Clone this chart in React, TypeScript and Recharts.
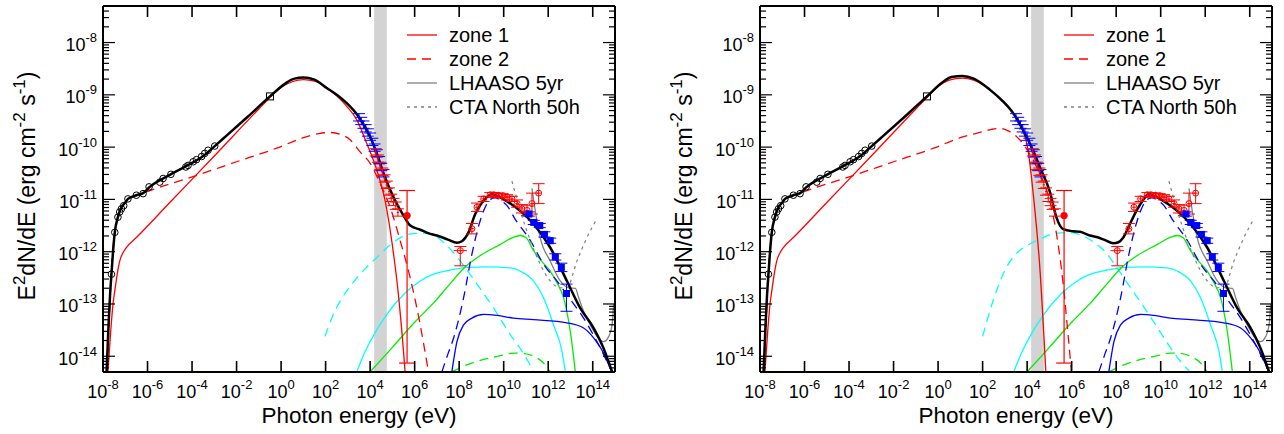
import React from "react";
import { ComposedChart, Line, Scatter, XAxis, YAxis, ReferenceArea, ErrorBar } from "recharts";

// all values are log10(E / eV) and log10(E^2 dN/dE / erg cm^-2 s^-1)
type P = [number, number];

const X_DOMAIN: [number, number] = [-8, 15];
const Y_DOMAIN: [number, number] = [Math.log10(5e-15), Math.log10(5e-8)];
const X_TICKS = [-8, -6, -4, -2, 0, 2, 4, 6, 8, 10, 12, 14];
const Y_DECADES = [-15, -14, -13, -12, -11, -10, -9, -8];
const BAND: [number, number] = [4.18, 4.75];

// ---- model curves, left panel ----
const totalL: P[] = [
  [-7.84, -14.3], [-7.75, -13.4], [-7.68, -12.8], [-7.62, -12.43], [-7.55, -12.0], [-7.47, -11.63],
  [-7.33, -11.34], [-7.17, -11.15], [-7.0, -11.06], [-6.88, -10.99], [-6.5, -10.92], [-6.2, -10.88],
  [-5.9, -10.76], [-5.0, -10.53], [-4.25, -10.36], [-3.5, -10.17], [-2.98, -9.98], [-2.5, -9.8],
  [-1.5, -9.42], [-0.5, -9.03], [0.2, -8.78], [0.6, -8.69], [1.0, -8.67], [1.5, -8.71], [2.05, -8.87],
  [2.5, -9.0], [2.95, -9.16], [3.47, -9.41], [4.0, -9.8], [4.3, -10.12], [4.6, -10.5], [5.05, -10.96],
  [5.5, -11.31], [5.8, -11.5], [6.25, -11.58], [6.7, -11.66], [7.0, -11.69], [7.5, -11.77], [7.9, -11.83],
  [8.12, -11.8], [8.42, -11.63], [8.72, -11.28], [9.1, -11.02], [9.47, -10.9], [9.85, -10.96],
  [10.3, -11.08], [10.74, -11.22], [11.34, -11.47], [12.09, -11.92], [12.84, -12.56], [13.44, -13.08],
  [14.04, -13.46], [14.49, -13.85], [14.87, -14.3],
];
const zone1L: P[] = [
  [-7.78, -14.3], [-7.65, -13.5], [-7.55, -13.0], [-7.47, -12.75], [-7.35, -12.4], [-7.25, -12.18],
  [-7.1, -12.02], [-6.95, -11.92], [-6.5, -11.73], [-5, -11.06], [-3, -10.17], [-1, -9.27], [-0.5, -9.05],
  [0, -8.86], [0.5, -8.75], [1.0, -8.71], [1.5, -8.74], [2.0, -8.85], [2.5, -9.02], [2.95, -9.22],
  [3.4, -9.48], [3.85, -9.93], [4.3, -10.44], [4.67, -11.02], [4.97, -11.79], [5.27, -12.82], [5.5, -13.91],
  [5.57, -14.3],
];
const zone2L: P[] = [
  [-7.82, -14.3], [-7.72, -13.3], [-7.63, -12.45], [-7.48, -11.66], [-7.33, -11.36], [-7.17, -11.17],
  [-6.88, -11.01], [-6.5, -10.93], [-6.2, -10.88], [-4, -10.57], [-2, -10.28], [-0.2, -10.02], [1.0, -9.82],
  [1.7, -9.74], [2.2, -9.72], [2.7, -9.76], [3.1, -9.86], [3.55, -10.09], [4.0, -10.31], [4.45, -10.7],
  [4.9, -11.15], [5.35, -11.79], [5.8, -12.5], [6.25, -13.4], [6.62, -14.3],
];
const cyanDashL: P[] = [
  [1.97, -13.62], [2.4, -13.15], [2.95, -12.75], [3.55, -12.43], [4.3, -12.11], [5.05, -11.82], [5.5, -11.7],
  [5.8, -11.66], [6.2, -11.65], [6.7, -11.66], [7.3, -11.82], [8.05, -12.18], [8.8, -12.62], [9.55, -13.08],
  [10.3, -13.59], [10.74, -13.85], [11.1, -14.1], [11.34, -14.3],
];

// ---- model curves, right panel ----
const totalR: P[] = [
  [-7.84, -14.3], [-7.75, -13.4], [-7.68, -12.8], [-7.62, -12.43], [-7.55, -12.0], [-7.47, -11.63],
  [-7.33, -11.34], [-7.17, -11.15], [-7.0, -11.06], [-6.88, -10.99], [-6.5, -10.92], [-6.2, -10.88],
  [-5.9, -10.76], [-5.0, -10.53], [-4.25, -10.36], [-3.5, -10.17], [-2.98, -9.98], [-2.5, -9.8],
  [-1.5, -9.42], [-0.5, -9.03], [0.2, -8.76], [0.6, -8.66], [1.1, -8.64], [1.6, -8.69], [2.32, -8.9],
  [2.9, -9.12], [3.37, -9.35], [3.97, -9.8], [4.3, -10.1], [4.57, -10.38], [5.02, -10.85], [5.32, -11.35],
  [5.62, -11.57], [6.07, -11.61], [6.37, -11.62], [6.82, -11.69], [7.12, -11.72], [7.5, -11.78],
  [7.87, -11.84], [8.1, -11.82], [8.32, -11.73], [8.62, -11.47], [8.92, -11.21], [9.2, -11.02],
  [9.47, -10.9], [9.85, -10.96], [10.3, -11.08], [10.74, -11.22], [11.34, -11.47], [12.09, -11.92],
  [12.84, -12.56], [13.44, -13.08], [14.04, -13.46], [14.49, -13.85], [14.87, -14.3],
];
const zone1R: P[] = [
  [-7.78, -14.3], [-7.65, -13.5], [-7.55, -13.0], [-7.47, -12.75], [-7.35, -12.4], [-7.25, -12.18],
  [-7.1, -12.02], [-6.95, -11.92], [-6.5, -11.73], [-5, -11.06], [-3, -10.17], [-1, -9.27], [-0.5, -9.05],
  [0, -8.84], [0.5, -8.72], [1.1, -8.68], [1.6, -8.72], [2.2, -8.86], [2.8, -9.07], [3.3, -9.3],
  [3.67, -9.55], [4.04, -10.06], [4.3, -11.0], [4.57, -12.3], [4.84, -14.3],
];
const zone2R: P[] = [
  [-7.82, -14.3], [-7.72, -13.3], [-7.63, -12.45], [-7.48, -11.66], [-7.33, -11.36], [-7.17, -11.17],
  [-6.88, -11.01], [-6.5, -10.93], [-6.2, -10.88], [-4, -10.57], [-2, -10.28], [-0.2, -10.02], [1.0, -9.82],
  [1.87, -9.72], [2.4, -9.66], [2.77, -9.64], [3.2, -9.7], [3.67, -9.86], [4.0, -10.05], [4.5, -10.45],
  [5.0, -11.0], [5.32, -11.66], [5.62, -12.62], [5.84, -13.59], [5.99, -14.3],
];
const cyanDashR: P[] = [
  [2.0, -13.62], [2.5, -12.9], [3.07, -12.3], [3.6, -12.0], [4.0, -11.88], [4.57, -11.76], [5.0, -11.68],
  [5.5, -11.64], [6.07, -11.64], [6.5, -11.7], [7.0, -11.82], [7.5, -12.0], [8.02, -12.3], [8.5, -12.6],
  [9.07, -12.95], [9.7, -13.35], [10.3, -13.75], [10.8, -14.05], [11.32, -14.3],
];

// ---- model curves shared by both panels ----
const cyanSolid: P[] = [
  [3.4, -14.3], [3.7, -13.98], [4.0, -13.72], [4.75, -13.2], [5.5, -12.82], [6.25, -12.56], [6.85, -12.43],
  [7.6, -12.35], [8.35, -12.3], [9.25, -12.29], [10.3, -12.31], [10.74, -12.37], [11.34, -12.56],
  [11.79, -12.88], [12.24, -13.4], [12.62, -13.91], [12.77, -14.3],
];
const greenSolid: P[] = [
  [4.0, -14.3], [5.0, -13.83], [6.0, -13.35], [6.85, -12.98], [7.5, -12.66], [8.2, -12.32], [9.0, -12.06],
  [9.85, -11.86], [10.4, -11.73], [10.74, -11.69], [11.0, -11.73], [11.34, -11.98], [11.7, -12.18],
  [12.09, -12.37], [12.4, -12.6], [12.69, -12.88], [12.99, -13.52], [13.22, -14.3],
];
const greenDash: P[] = [
  [7.67, -14.3], [8.3, -14.17], [9.1, -14.06], [9.85, -13.99], [10.44, -13.94], [10.74, -13.94],
  [11.34, -14.0], [11.79, -14.13], [12.09, -14.3],
];
const blueSolid: P[] = [
  [7.67, -14.3], [7.9, -13.72], [8.2, -13.4], [8.57, -13.27], [9.1, -13.2], [9.7, -13.22], [10.44, -13.27],
  [11.34, -13.3], [12.84, -13.36], [13.59, -13.46], [14.04, -13.65], [14.49, -13.94], [14.79, -14.23],
  [14.88, -14.3],
];
const blueDash: P[] = [
  [7.22, -14.3], [7.5, -13.95], [7.75, -13.65], [8.2, -12.88], [8.57, -12.05], [8.95, -11.4], [9.2, -11.12],
  [9.4, -11.0], [9.62, -10.97], [9.85, -11.02], [10.15, -11.12], [10.52, -11.38], [10.67, -11.47],
  [11.2, -11.79], [11.79, -12.24], [12.39, -12.56], [12.99, -12.91], [13.59, -13.27], [14.19, -13.72],
  [14.64, -14.1], [14.87, -14.3],
];
const lhaaso: P[] = [
  [11.27, -10.79], [11.45, -11.3], [11.64, -11.73], [12.09, -12.18], [12.54, -12.56], [12.92, -12.69],
  [13.22, -12.7], [13.37, -12.88], [13.59, -13.14], [13.89, -13.4], [14.19, -13.62], [14.49, -13.72],
  [14.72, -13.62], [14.87, -13.4], [14.94, -13.0],
];
const cta: P[] = [
  [10.37, -10.65], [10.74, -11.21], [11.2, -11.79], [11.64, -12.24], [12.09, -12.56], [12.54, -12.69],
  [12.84, -12.69], [13.29, -12.18], [13.74, -11.73], [14.19, -11.37],
];

// ---- measurements ----
const radio: P[] = [
  [-7.62, -12.43], [-7.47, -11.63], [-7.33, -11.34], [-7.25, -11.24], [-7.17, -11.18], [-7.07, -11.12],
  [-6.88, -10.99], [-6.5, -10.92], [-6.2, -10.89], [-5.93, -10.76], [-5.45, -10.67], [-5.3, -10.6],
  [-4.95, -10.52], [-4.28, -10.38], [-4.18, -10.35], [-3.95, -10.28], [-3.8, -10.24], [-3.57, -10.18],
  [-3.43, -10.12], [-3.28, -10.06], [-2.98, -9.98],
];
const optical: P[] = [[-0.5, -9.03]];
const xrayBlue: P[] = [
  [3.5, -9.43], [3.6, -9.5], [3.7, -9.57], [3.8, -9.64], [3.9, -9.72], [4.0, -9.8], [4.1, -9.9],
  [4.2, -10.01], [4.3, -10.12], [4.4, -10.25], [4.5, -10.38], [4.6, -10.5],
];
const xrayRed: P[] = [
  [4.25, -10.1], [4.35, -10.22], [4.45, -10.36], [4.55, -10.47], [4.65, -10.6], [4.75, -10.72],
  [4.85, -10.85], [4.95, -10.97], [5.05, -11.05], [5.15, -11.12], [5.25, -11.25],
];
const XRAY_ERR_X = 0.05;
const XRAY_ERR_Y = 0.07;
// [logE, logF, err down, err up]
const hardX: [number, number, number, number][] = [[5.66, -11.31, 2.82, 0.48]];
const fermi: [number, number, number, number][] = [
  [8.05, -11.98, 0.29, 0.08], [8.57, -11.56, 0.1, 0.1], [8.8, -11.15, 0.08, 0.08], [9.1, -10.99, 0.05, 0.05],
  [9.4, -10.91, 0.04, 0.04], [9.55, -10.91, 0.04, 0.04], [9.77, -10.92, 0.04, 0.04], [9.95, -10.93, 0.04, 0.04],
  [10.15, -10.96, 0.05, 0.05], [10.37, -10.99, 0.05, 0.05], [10.6, -11.08, 0.07, 0.07], [10.82, -11.18, 0.08, 0.08],
  [11.05, -11.21, 0.1, 0.1], [11.27, -11.08, 0.2, 0.2], [11.57, -10.88, 0.2, 0.18],
];
const fermiErrX: number[] = [0.3, 0.1, 0.1, 0.1, 0.08, 0.08, 0.08, 0.08, 0.08, 0.08, 0.08, 0.08, 0.08, 0.08, 0.1];
const tev: [number, number, number, number][] = [
  [11.13, -11.28, 0.04, 0.04], [11.35, -11.44, 0.04, 0.04], [11.62, -11.5, 0.04, 0.04], [11.83, -11.67, 0.05, 0.05],
  [12.09, -11.79, 0.05, 0.05], [12.32, -12.1, 0.06, 0.06], [12.59, -12.3, 0.08, 0.08], [12.82, -12.8, 0.34, 0.18],
];

const LEGEND = [
  { name: "zone 1", color: "#ff0000", dash: undefined },
  { name: "zone 2", color: "#ff0000", dash: "9 6" },
  { name: "LHAASO 5yr", color: "#808080", dash: undefined },
  { name: "CTA North 50h", color: "#808080", dash: "3 4" },
];

const W = 627;
const H = 434;
const FONT = "'Liberation Sans', Arial, Helvetica, sans-serif";
const pts = (a: P[]) => a.map(([x, y]) => ({ x, y }));
const yTicks: number[] = [];
Y_DECADES.forEach((n) => {
  for (let k = 1; k <= 9; k++) {
    const v = n + Math.log10(k);
    if (v >= Y_DOMAIN[0] && v <= Y_DOMAIN[1]) yTicks.push(v);
  }
});
const isMajor = (v: number) => Math.abs(v - Math.round(v)) < 1e-6;

const Pow = ({ x, y, exp, anchor }: { x: number; y: number; exp: number; anchor: "middle" | "end" }) => (
  <text x={x} y={y} textAnchor={anchor} fontFamily={FONT} fontSize={18} fill="#000">
    10
    <tspan dy={-9} fontSize={13}>
      {exp}
    </tspan>
  </text>
);

const XTickBottom = (p: any) => (
  <g>
    <line x1={p.x} x2={p.x} y1={p.y} y2={p.y - 11} stroke="#000" strokeWidth={1.6} />
    <Pow x={p.x} y={p.y + 26} exp={p.payload.value} anchor="middle" />
  </g>
);
const XTickTop = (p: any) => <line x1={p.x} x2={p.x} y1={p.y} y2={p.y + 11} stroke="#000" strokeWidth={1.6} />;
const YTickLeft = (p: any) => {
  const major = isMajor(p.payload.value);
  return (
    <g>
      <line x1={p.x} x2={p.x + (major ? 12 : 6)} y1={p.y} y2={p.y} stroke="#000" strokeWidth={1.2} />
      {major && <Pow x={p.x - 6} y={p.y + 8.5} exp={Math.round(p.payload.value)} anchor="end" />}
    </g>
  );
};
const YTickRight = (p: any) => {
  const major = isMajor(p.payload.value);
  return <line x1={p.x} x2={p.x - (major ? 12 : 6)} y1={p.y} y2={p.y} stroke="#000" strokeWidth={1.2} />;
};

const frame = { stroke: "#000", strokeWidth: 2 };
const ax = { xAxisId: "b", yAxisId: "l" };

const curve = (key: string, data: P[], color: string, width = 1.3, dash?: string) => (
  <Line
    key={key}
    {...ax}
    data={pts(data)}
    dataKey="y"
    type="monotone"
    stroke={color}
    strokeWidth={width}
    strokeDasharray={dash}
    dot={false}
    activeDot={false}
    isAnimationActive={false}
  />
);

const OpenCircle = (p: any) => <circle cx={p.cx} cy={p.cy} r={3.3} fill="none" stroke="#000" strokeWidth={1} />;
const OpenSquare = (p: any) => <rect x={p.cx - 3.5} y={p.cy - 3.5} width={7} height={7} fill="none" stroke="#000" strokeWidth={1} />;
const NoMark = () => <g />;
const RedDot = (p: any) => <circle cx={p.cx} cy={p.cy} r={3.6} fill="#ff0000" />;
const RedRing = (p: any) => <circle cx={p.cx} cy={p.cy} r={3} fill="none" stroke="#ff0000" strokeWidth={1} />;
const BlueSquare = (p: any) => <rect x={p.cx - 3.5} y={p.cy - 3.5} width={7} height={7} fill="#0000ff" />;

function Panel({ total, zone1, zone2, cyanDash }: { total: P[]; zone1: P[]; zone2: P[]; cyanDash: P[] }) {
  const xray = (a: P[]) => a.map(([x, y]) => ({ x, y, ex: XRAY_ERR_X, ey: XRAY_ERR_Y }));
  const withErr = (a: [number, number, number, number][], exs?: number[]) =>
    a.map(([x, y, lo, hi], i) => ({ x, y, ey: [lo, hi], ex: exs ? exs[i] : 0 }));
  return (
    <div style={{ position: "relative", width: W, height: H }}>
      <ComposedChart width={W} height={H} margin={{ top: 5, right: 11, bottom: 61, left: 102 }}>
        <XAxis xAxisId="b" type="number" dataKey="x" domain={X_DOMAIN} allowDataOverflow ticks={X_TICKS}
          interval={0} height={1} tickSize={0} tickMargin={0} axisLine={frame} tickLine={false} tick={XTickBottom} />
        <XAxis xAxisId="t" orientation="top" type="number" dataKey="x" domain={X_DOMAIN} allowDataOverflow
          ticks={X_TICKS} interval={0} height={1} tickSize={0} tickMargin={0} axisLine={frame} tickLine={false} tick={XTickTop} />
        <YAxis yAxisId="l" type="number" dataKey="y" domain={Y_DOMAIN} allowDataOverflow ticks={yTicks}
          interval={0} width={1} tickSize={0} tickMargin={0} axisLine={frame} tickLine={false} tick={YTickLeft} />
        <YAxis yAxisId="r" orientation="right" type="number" dataKey="y" domain={Y_DOMAIN} allowDataOverflow
          ticks={yTicks} interval={0} width={1} tickSize={0} tickMargin={0} axisLine={frame} tickLine={false} tick={YTickRight} />
        <ReferenceArea {...ax} x1={BAND[0]} x2={BAND[1]} fill="#d3d3d3" fillOpacity={1} stroke="none" />

        {curve("cyanDash", cyanDash, "#00ffff", 1.3, "9 6")}
        {curve("cyanSolid", cyanSolid, "#00ffff")}
        {curve("greenSolid", greenSolid, "#00ee00")}
        {curve("greenDash", greenDash, "#00ee00", 1.3, "9 6")}
        {curve("blueSolid", blueSolid, "#0000ff")}
        {curve("blueDash", blueDash, "#0000ff", 1.3, "9 6")}
        {curve("lhaaso", lhaaso, "#808080")}
        {curve("cta", cta, "#808080", 1.2, "3 4")}
        {curve("zone2", zone2, "#ff0000", 1.3, "9 6")}
        {curve("zone1", zone1, "#ff0000")}
        {curve("total", total, "#000000", 2.5)}

        <Scatter {...ax} data={xray(xrayBlue)} shape={NoMark} isAnimationActive={false}>
          <ErrorBar dataKey="ex" direction="x" width={0} stroke="#0000ff" strokeWidth={1} />
          <ErrorBar dataKey="ey" direction="y" width={6} stroke="#0000ff" strokeWidth={1} />
        </Scatter>
        <Scatter {...ax} data={xray(xrayRed)} shape={NoMark} isAnimationActive={false}>
          <ErrorBar dataKey="ex" direction="x" width={0} stroke="#ff0000" strokeWidth={1} />
          <ErrorBar dataKey="ey" direction="y" width={6} stroke="#ff0000" strokeWidth={1} />
        </Scatter>
        <Scatter {...ax} data={withErr(hardX)} shape={RedDot} isAnimationActive={false}>
          <ErrorBar dataKey="ey" direction="y" width={8} stroke="#ff0000" strokeWidth={1.2} />
        </Scatter>
        <Scatter {...ax} data={withErr(fermi, fermiErrX)} shape={RedRing} isAnimationActive={false}>
          <ErrorBar dataKey="ex" direction="x" width={0} stroke="#ff0000" strokeWidth={1} />
          <ErrorBar dataKey="ey" direction="y" width={6} stroke="#ff0000" strokeWidth={1} />
        </Scatter>
        <Scatter {...ax} data={withErr(tev)} shape={BlueSquare} isAnimationActive={false}>
          <ErrorBar dataKey="ey" direction="y" width={6} stroke="#0000ff" strokeWidth={1} />
        </Scatter>
        <Scatter {...ax} data={pts(radio)} shape={OpenCircle} isAnimationActive={false} />
        <Scatter {...ax} data={pts(optical)} shape={OpenSquare} isAnimationActive={false} />
      </ComposedChart>

      <svg width={W} height={H} style={{ position: "absolute", left: 0, top: 0, pointerEvents: "none" }}>
        <g fontFamily={FONT} fill="#000">
          {LEGEND.map((l, i) => {
            const y = 35 + i * 24;
            return (
              <g key={l.name}>
                <line x1={407} x2={437} y1={y} y2={y} stroke={l.color} strokeWidth={1.3} strokeDasharray={l.dash} />
                <text x={449} y={y + 7} fontSize={20}>
                  {l.name}
                </text>
              </g>
            );
          })}
          <text x={359} y={423} textAnchor="middle" fontSize={22.5}>
            Photon energy (eV)
          </text>
          <text transform="translate(35,186) rotate(-90)" textAnchor="middle" fontSize={23}>
            E<tspan dy={-10} fontSize={17}>2</tspan>
            <tspan dy={10}>dN/dE (erg  cm</tspan>
            <tspan dy={-10} fontSize={17}>-2</tspan>
            <tspan dy={10}> s</tspan>
            <tspan dy={-10} fontSize={17}>-1</tspan>
            <tspan dy={10}>)</tspan>
          </text>
        </g>
      </svg>
    </div>
  );
}

export default function App() {
  return (
    <div style={{ position: "absolute", left: 0, top: 0, width: 1284, height: 434, background: "#fff" }}>
      <div style={{ position: "absolute", left: 0, top: 0 }}>
        <Panel total={totalL} zone1={zone1L} zone2={zone2L} cyanDash={cyanDashL} />
      </div>
      <div style={{ position: "absolute", left: 657, top: 0 }}>
        <Panel total={totalR} zone1={zone1R} zone2={zone2R} cyanDash={cyanDashR} />
      </div>
    </div>
  );
}
